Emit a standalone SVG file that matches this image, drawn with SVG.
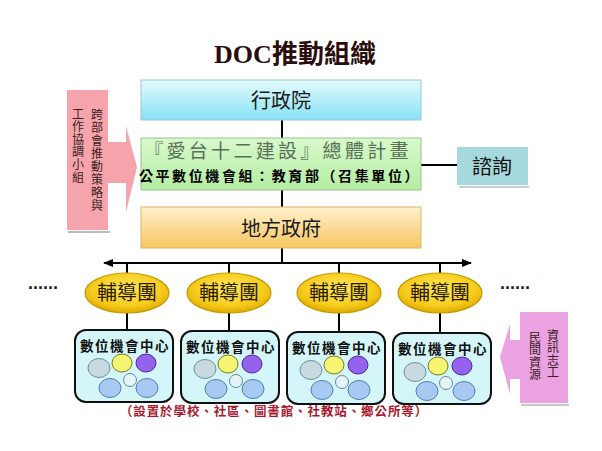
<svg xmlns="http://www.w3.org/2000/svg" width="602" height="451" viewBox="0 0 602 451">
<style>
.cjk{font-family:"Noto Sans CJK TC","Noto Sans CJK SC",sans-serif}
.conn{stroke:#000;stroke-width:2;fill:none}
.hub{fill:url(#gold);stroke:#C49A00;stroke-width:1.2}
.hubt{font-family:"Noto Sans CJK TC",sans-serif;font-size:20px;fill:#2a1a00;text-anchor:middle}
.ctr{fill:#D4F6F9;stroke:#111;stroke-width:2}
.ctrt{font-family:"Noto Sans CJK TC",sans-serif;font-size:13.5px;font-weight:bold;fill:#111;text-anchor:middle;letter-spacing:1.5px}
.cg{fill:#C9D9E0;stroke:#6E8E9E;stroke-width:1}
.cy{fill:#F6F572;stroke:#7A7A20;stroke-width:1}
.cp{fill:#9462EC;stroke:#4A2C96;stroke-width:1}
.cw{fill:#E6F4F8;stroke:#5E8C9C;stroke-width:1}
.cb{fill:#A8CAF2;stroke:#4E7EB0;stroke-width:1}
.vt{font-family:"Noto Sans CJK TC",sans-serif;font-size:12px;fill:#3a2020;writing-mode:vertical-rl}
.dots{font-family:"Liberation Sans",sans-serif;font-size:18px;font-weight:bold;fill:#222}
</style>
<defs>
<linearGradient id="cyan" x1="0" y1="0" x2="0" y2="1"><stop offset="0" stop-color="#E4FAFD"/><stop offset="1" stop-color="#86E2F6"/></linearGradient>
<linearGradient id="green" x1="0" y1="0" x2="0" y2="1"><stop offset="0" stop-color="#D8F9CC"/><stop offset="1" stop-color="#B4EDA2"/></linearGradient>
<linearGradient id="orange" x1="0" y1="0" x2="0" y2="1"><stop offset="0" stop-color="#FFF1CC"/><stop offset="1" stop-color="#F7C562"/></linearGradient>
<radialGradient id="gold" cx="0.5" cy="0.4" r="0.6"><stop offset="0" stop-color="#FFE85A"/><stop offset="0.7" stop-color="#F6CC1C"/><stop offset="1" stop-color="#E0AA00"/></radialGradient>
<marker id="ah" viewBox="0 0 10 10" refX="9" refY="5" markerWidth="5" markerHeight="5" orient="auto-start-reverse" markerUnits="strokeWidth"><path d="M0,1 L10,5 L0,9 z" fill="#000"/></marker>
</defs>
<rect width="602" height="451" fill="#fff"/>

<text id="title" x="295" y="63" text-anchor="middle" font-size="26" font-weight="bold" fill="#2a0e0e"><tspan font-family="Liberation Serif,serif">DOC</tspan><tspan font-family="Noto Sans CJK TC,sans-serif">推動組織</tspan></text>

<g id="connectors">
<line class="conn" x1="282" y1="120" x2="282" y2="138"/>
<line class="conn" x1="282" y1="190" x2="282" y2="207"/>
<line class="conn" x1="282" y1="248" x2="282" y2="263"/>
<line class="conn" x1="421" y1="165" x2="457" y2="165"/>
<line class="conn" x1="104" y1="263" x2="471" y2="263" marker-start="url(#ah)" marker-end="url(#ah)"/>
<line class="conn" x1="127" y1="263" x2="127" y2="274"/>
<line class="conn" x1="229" y1="263" x2="229" y2="274"/>
<line class="conn" x1="339" y1="263" x2="339" y2="274"/>
<line class="conn" x1="440" y1="263" x2="440" y2="274"/>
<line class="conn" x1="127" y1="312" x2="127" y2="330"/>
<line class="conn" x1="229" y1="312" x2="229" y2="330"/>
<line class="conn" x1="339" y1="312" x2="339" y2="332"/>
<line class="conn" x1="440" y1="312" x2="440" y2="333"/>
</g>

<g id="n-xingzhengyuan">
<rect x="141" y="80" width="280" height="40" fill="url(#cyan)" stroke="#9CC8D2" stroke-width="1"/>
<text class="cjk" x="281" y="108" text-anchor="middle" font-size="20" fill="#1a1a1a">行政院</text>
</g>

<g id="n-plan">
<rect x="141" y="138" width="280" height="52" fill="url(#green)" stroke="#98C488" stroke-width="1"/>
<text class="cjk" x="278" y="158" text-anchor="middle" font-size="19" fill="#587058" letter-spacing="3.3">『愛台十二建設』總體計畫</text>
<text class="cjk" x="280" y="181" text-anchor="middle" font-size="14" font-weight="bold" fill="#000" letter-spacing="2.6">公平數位機會組：教育部（召集單位）</text>
</g>

<g id="n-consult">
<rect x="459" y="186" width="70" height="2" fill="#cfcfcf"/>
<rect x="457" y="147" width="71" height="38" fill="#A6D9DD"/>
<text class="cjk" x="492" y="174" text-anchor="middle" font-size="20" fill="#111">諮詢</text>
</g>

<g id="n-local">
<rect x="141" y="207" width="280" height="41" fill="url(#orange)" stroke="#E2B466" stroke-width="1"/>
<text class="cjk" x="281" y="236" text-anchor="middle" font-size="20" fill="#1a1a1a">地方政府</text>
</g>

<g id="n-crossdept">
<rect x="68" y="231" width="42" height="2" fill="#bcbcbc"/>
<path d="M67,90 H108 V142 H126 V126 L137,167 L126,212 V183 H108 V230 H67 Z" fill="#F5A4AC"/>
<text class="vt" x="97" y="108" letter-spacing="1">跨部會推動策略與</text>
<text class="vt" x="78" y="108" letter-spacing="0.6">工作協調小組</text>
</g>

<g id="n-volunteer">
<rect x="521" y="404" width="48" height="2" fill="#c8c8c8"/>
<path d="M568,312 H520 V340 H510 V324 L500,357 L510,394 V379 H520 V403 H568 Z" fill="#EAA2E2"/>
<text class="vt" x="553" y="329" letter-spacing="0.6">資訊志工</text>
<text class="vt" x="535" y="331" letter-spacing="0.5">民間資源</text>
</g>

<g id="n-hub1"><ellipse class="hub" cx="127" cy="293" rx="42" ry="20"/><text class="hubt" x="127" y="300">輔導團</text></g>
<g id="n-hub2"><ellipse class="hub" cx="229" cy="293" rx="42" ry="20"/><text class="hubt" x="229" y="300">輔導團</text></g>
<g id="n-hub3"><ellipse class="hub" cx="339" cy="293" rx="42" ry="20"/><text class="hubt" x="339" y="300">輔導團</text></g>
<g id="n-hub4"><ellipse class="hub" cx="440" cy="293" rx="42" ry="20"/><text class="hubt" x="440" y="300">輔導團</text></g>

<g id="n-center1" transform="translate(75,330)">
<rect class="ctr" x="0" y="0" width="98" height="72" rx="11"/>
<text class="ctrt" x="50" y="21">數位機會中心</text>
<ellipse class="cg" cx="24" cy="38" rx="11" ry="9.5"/><ellipse class="cy" cx="47" cy="33" rx="10" ry="9"/><ellipse class="cp" cx="71" cy="33" rx="10" ry="9"/>
<circle class="cw" cx="55" cy="50" r="6.5"/><ellipse class="cb" cx="35" cy="58" rx="11" ry="9.5"/><ellipse class="cb" cx="72" cy="58" rx="11" ry="9.5"/>
</g>
<g id="n-center2" transform="translate(181,331)">
<rect class="ctr" x="0" y="0" width="98" height="72" rx="11"/>
<text class="ctrt" x="50" y="21">數位機會中心</text>
<ellipse class="cg" cx="24" cy="38" rx="11" ry="9.5"/><ellipse class="cy" cx="47" cy="33" rx="10" ry="9"/><ellipse class="cp" cx="71" cy="33" rx="10" ry="9"/>
<circle class="cw" cx="55" cy="50" r="6.5"/><ellipse class="cb" cx="35" cy="58" rx="11" ry="9.5"/><ellipse class="cb" cx="72" cy="58" rx="11" ry="9.5"/>
</g>
<g id="n-center3" transform="translate(287,332)">
<rect class="ctr" x="0" y="0" width="98" height="72" rx="11"/>
<text class="ctrt" x="50" y="21">數位機會中心</text>
<ellipse class="cg" cx="24" cy="38" rx="11" ry="9.5"/><ellipse class="cy" cx="47" cy="33" rx="10" ry="9"/><ellipse class="cp" cx="71" cy="33" rx="10" ry="9"/>
<circle class="cw" cx="55" cy="50" r="6.5"/><ellipse class="cb" cx="35" cy="58" rx="11" ry="9.5"/><ellipse class="cb" cx="72" cy="58" rx="11" ry="9.5"/>
</g>
<g id="n-center4" transform="translate(393,333)">
<rect class="ctr" x="0" y="0" width="98" height="71" rx="11"/>
<text class="ctrt" x="50" y="21">數位機會中心</text>
<ellipse class="cg" cx="22" cy="39" rx="11" ry="9.5"/><ellipse class="cy" cx="45" cy="33" rx="10" ry="9"/><ellipse class="cp" cx="69" cy="33" rx="10" ry="9"/>
<circle class="cw" cx="53" cy="50" r="6.5"/><ellipse class="cb" cx="34" cy="58" rx="11" ry="9.5"/><ellipse class="cb" cx="71" cy="58" rx="11" ry="9.5"/>
</g>

<text id="note" class="cjk" x="274" y="416" text-anchor="middle" font-size="12.5" font-weight="bold" fill="#A8182E" letter-spacing="0.9">（設置於學校、社區、圖書館、社教站、鄉公所等）</text>
<text id="dots-left" class="dots" x="28" y="289">......</text>
<text id="dots-right" class="dots" x="500" y="289">......</text>
</svg>
